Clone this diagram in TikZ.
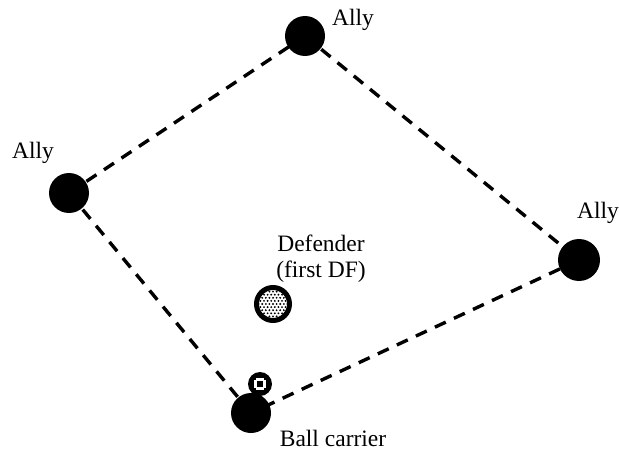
\documentclass[tikz,border=0pt]{standalone}
\usepackage{fontspec}
\setmainfont{Liberation Serif}
\begin{document}
\begin{tikzpicture}[x=1pt,y=-1pt,
  player/.style={circle,fill=black,minimum size=40pt,inner sep=0pt},
  link/.style={line width=3.4pt,dash pattern=on 12pt off 9pt},
  lbl/.style={font=\fontsize{23.5}{26}\selectfont,inner sep=0pt,align=center}]
\useasboundingbox (0,0) rectangle (619,452);

% players
\coordinate (top) at (305,36);
\coordinate (left) at (69,193);
\coordinate (right) at (579,260);
\coordinate (carrier) at (251,413);

% passing lanes
\draw[link] (left) -- (top);
\draw[link] (top) -- (right);
\draw[link] (right) -- (carrier);
\draw[link] (carrier) -- (left);

\node[player] (ptop) at (top) {};
\node[player] (pleft) at (left) {};
\node[player,minimum size=42pt] (pright) at (right) {};
\node[player] (pcarrier) at (carrier) {};

% defender: ringed disc with dotted fill
\node[circle,draw=black,line width=5pt,fill=white,minimum size=33pt,inner sep=0pt] (def) at (273,304) {};
\begin{scope}
  \clip (273,304) circle (14pt);
  \foreach \i in {-5,...,5}{
    \foreach \j in {-6,...,6}{
      \pgfmathsetmacro{\dx}{273+3.6*\i+1.8*mod(abs(\j),2)}
      \pgfmathsetmacro{\dy}{304+3.1*\j}
      \fill (\dx,\dy) circle (1.05pt);
    }
  }
\end{scope}

% ball
\node[circle,fill=black,minimum size=24pt,inner sep=0pt] (ball) at (260,384) {};
\fill[white] (254,378) rectangle (266,390);
\fill[black] (257,381) rectangle (263,387);
\fill[black] (254,378) rectangle (256,380);
\fill[black] (264,378) rectangle (266,380);
\fill[black] (254,388) rectangle (256,390);
\fill[black] (264,388) rectangle (266,390);

% labels
\node[lbl] (ltop) at (353,20) {Ally};
\node[lbl] (lleft) at (33,153) {Ally};
\node[lbl] (lright) at (598,213) {Ally};
\node[lbl] (ldef) at (321,259) {Defender\\(first DF)};
\node[lbl] (lcarrier) at (333,438) {Ball carrier};
\end{tikzpicture}
\end{document}
